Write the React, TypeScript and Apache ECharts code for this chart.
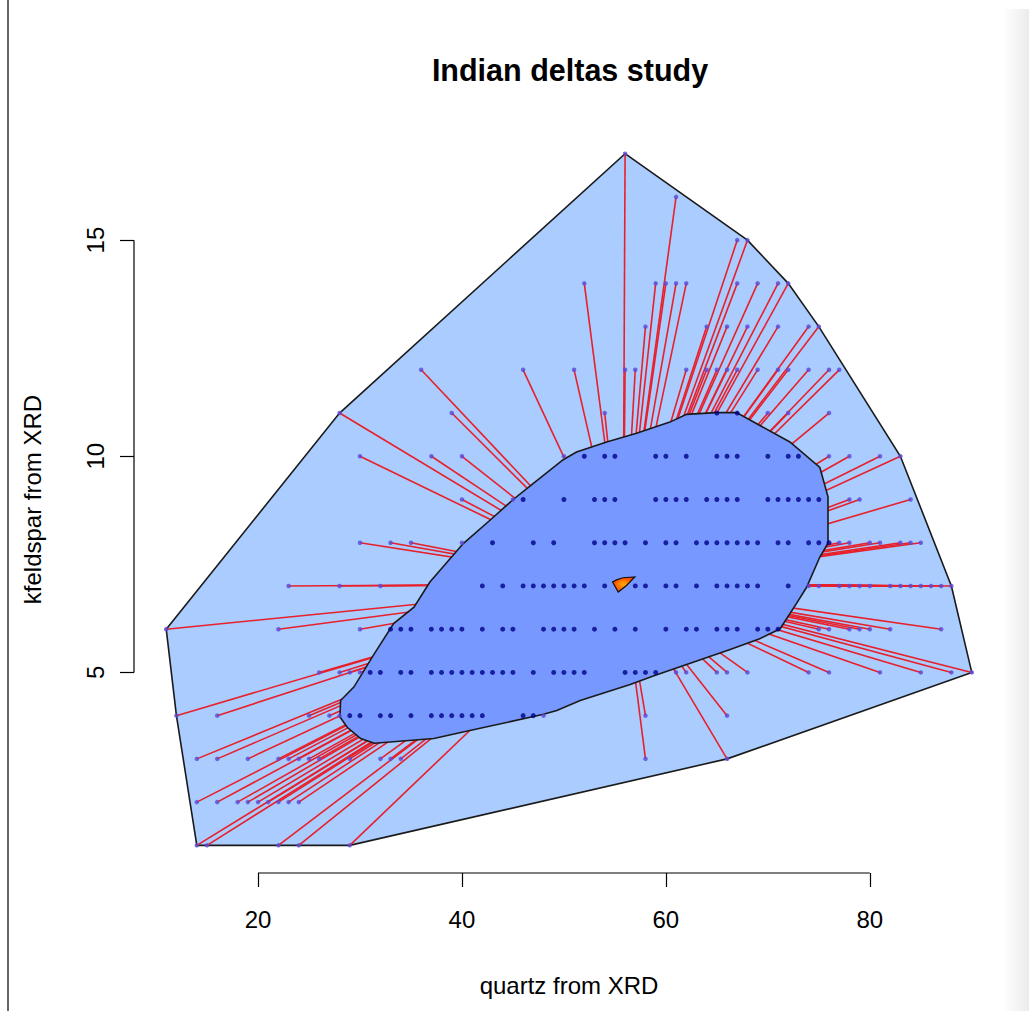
import React, { useEffect, useRef } from "react";
import * as echarts from "echarts";

const xTicks = [20, 40, 60, 80];
const yTicks = [5, 10, 15];
const xRange = [7.84, 93.16];
const yRange = [0.36, 17.64];
const center = [55.8, 7.05];

const hullVertices = [
  [56, 17], [68, 15], [72, 14], [75, 13], [83, 10], [88, 7], [90, 5],
  [66, 3], [29, 1], [14, 1], [12, 4], [11, 6], [28, 11],
];

const bagVertices = [
  [36.86, 7.09], [40.13, 7.98], [42.75, 8.52], [45.03, 9.0], [46.67, 9.31],
  [49.93, 9.92], [51.24, 10.1], [54.19, 10.33], [57.13, 10.53], [60.39, 10.79],
  [62.03, 10.97], [64.9, 11.01], [66.93, 11.01], [72.16, 10.33], [75.1, 9.74],
  [75.9, 9.06], [75.9, 7.99], [75.1, 7.67], [73.8, 6.97], [72.8, 6.59],
  [71.2, 6.01], [69.2, 5.78], [66.3, 5.53], [58.9, 4.93], [56.5, 4.72],
  [51.6, 4.35], [49.3, 4.12], [48.0, 4.03], [40.1, 3.62], [37.25, 3.47],
  [31.4, 3.36], [30.07, 3.47], [28.75, 3.73], [28.04, 3.97], [28.1, 4.35],
  [29.4, 4.66], [31.4, 5.43], [33.3, 6.13], [35.3, 6.51],
];

const centerVertices = [
  [54.77, 7.09], [55.33, 6.86], [56.14, 7.01], [56.96, 7.21], [55.8, 7.19], [55.16, 7.14],
];

const loopPoints = [
  [56, 17],
  [61, 16],
  [67, 15], [68, 15],
  [52, 14], [59, 14], [60, 14], [61, 14], [62, 14], [67, 14], [69, 14], [71, 14], [72, 14],
  [58, 13], [64, 13], [66, 13], [68, 13], [71, 13], [74, 13], [75, 13],
  [36, 12], [46, 12], [51, 12], [56, 12], [57, 12], [62, 12], [64, 12], [65, 12], [66, 12],
  [67, 12], [69, 12], [71, 12], [72, 12], [74, 12], [76, 12], [77, 12],
  [28, 11], [39, 11], [54, 11], [70, 11], [72, 11], [76, 11],
  [30, 10], [37, 10], [40, 10], [50, 10], [76, 10], [78, 10], [81, 10], [83, 10],
  [40, 9], [45, 9], [78, 9], [79, 9], [84, 9],
  [30, 8], [33, 8], [35, 8], [40, 8], [77, 8], [78, 8], [80, 8], [81, 8], [83, 8], [84, 8], [85, 8],
  [23, 7], [28, 7], [32, 7], [74, 7], [75, 7], [77, 7], [78, 7], [79, 7], [80, 7], [82, 7],
  [83, 7], [84, 7], [85, 7], [86, 7], [87, 7], [88, 7],
  [11, 6], [22, 6], [30, 6], [75, 6], [76, 6], [78, 6], [79, 6], [80, 6], [82, 6], [87, 6],
  [26, 5], [28, 5], [29, 5], [30, 5], [61, 5], [62, 5], [65, 5], [66, 5], [68, 5], [74, 5],
  [76, 5], [81, 5], [85, 5], [88, 5], [90, 5],
  [12, 4], [16, 4], [25, 4], [27, 4], [28, 4], [48, 4], [58, 4], [66, 4],
  [14, 3], [16, 3], [19, 3], [22, 3], [23, 3], [24, 3], [25, 3], [26, 3], [29, 3], [32, 3],
  [33, 3], [34, 3], [58, 3], [66, 3],
  [14, 2], [16, 2], [18, 2], [19, 2], [20, 2], [21, 2], [22, 2], [23, 2], [24, 2],
  [14, 1], [15, 1], [22, 1], [24, 1], [29, 1],
];

const bagPoints = [
  [65, 11], [67, 11],
  [52, 10], [54, 10], [55, 10], [59, 10], [60, 10], [62, 10], [65, 10], [66, 10], [67, 10],
  [70, 10], [72, 10], [73, 10],
  [46, 9], [50, 9], [53, 9], [54, 9], [55, 9], [59, 9], [60, 9], [61, 9], [62, 9], [64, 9],
  [65, 9], [66, 9], [67, 9], [70, 9], [71, 9], [72, 9], [73, 9], [74, 9], [75, 9],
  [43, 8], [47, 8], [49, 8], [53, 8], [54, 8], [55, 8], [56, 8], [58, 8], [60, 8], [61, 8],
  [63, 8], [64, 8], [65, 8], [66, 8], [67, 8], [68, 8], [69, 8], [71, 8], [72, 8], [74, 8],
  [75, 8], [76, 8],
  [42, 7], [44, 7], [46, 7], [47, 7], [48, 7], [49, 7], [50, 7], [51, 7], [52, 7], [54, 7],
  [57, 7], [58, 7], [60, 7], [61, 7], [63, 7], [65, 7], [66, 7], [67, 7], [68, 7], [69, 7], [72, 7],
  [33, 6], [34, 6], [35, 6], [37, 6], [38, 6], [39, 6], [40, 6], [42, 6], [44, 6], [45, 6],
  [48, 6], [49, 6], [50, 6], [51, 6], [53, 6], [55, 6], [57, 6], [60, 6], [62, 6], [63, 6],
  [65, 6], [66, 6], [67, 6], [69, 6], [70, 6], [71, 6],
  [31, 5], [32, 5], [34, 5], [35, 5], [37, 5], [38, 5], [39, 5], [40, 5], [41, 5], [42, 5],
  [43, 5], [44, 5], [45, 5], [47, 5], [49, 5], [50, 5], [51, 5], [52, 5], [56, 5], [57, 5],
  [58, 5], [59, 5],
  [29, 4], [30, 4], [32, 4], [33, 4], [35, 4], [37, 4], [38, 4], [39, 4], [40, 4], [41, 4],
  [42, 4], [46, 4], [47, 4],
];

const FONT = "'Liberation Sans', Arial, Helvetica, sans-serif";

function polygonSeries(vertices: number[][], fill: any, stroke: string, lineWidth: number, z: number) {
  return {
    type: "custom",
    coordinateSystem: "cartesian2d",
    data: [vertices[0]],
    z,
    silent: true,
    renderItem: (_params: any, api: any) => ({
      type: "polygon",
      shape: { points: vertices.map((v) => api.coord(v)) },
      style: { fill, stroke, lineWidth },
    }),
  };
}

export default function App() {
  const ref = useRef<HTMLDivElement>(null);
  useEffect(() => {
    document.body.style.margin = "0";
    const chart = echarts.init(ref.current!, null, { renderer: "svg" });
    chart.setOption({
      animation: false,
      backgroundColor: "#ffffff",
      title: {
        text: "Indian deltas study",
        left: 565,
        top: 49,
        textAlign: "center",
        textStyle: { fontSize: 30.5, fontWeight: "bold", color: "#000", fontFamily: FONT },
      },
      grid: { left: 134, right: 25, top: 126, bottom: 138 },
      xAxis: {
        type: "value",
        min: xRange[0],
        max: xRange[1],
        axisLine: { show: false },
        splitLine: { show: false },
        axisTick: { show: true, customValues: xTicks, length: 14, lineStyle: { color: "#000", width: 1.2 } },
        axisLabel: { customValues: xTicks, fontSize: 24, color: "#000", margin: 34, fontFamily: FONT },
        name: "quartz from XRD",
        nameLocation: "middle",
        nameGap: 100,
        nameTextStyle: { fontSize: 24, color: "#000", fontFamily: FONT },
      },
      yAxis: {
        type: "value",
        min: yRange[0],
        max: yRange[1],
        axisLine: { show: false },
        splitLine: { show: false },
        axisTick: { show: true, customValues: yTicks, length: 14, lineStyle: { color: "#000", width: 1.2 } },
        axisLabel: { customValues: yTicks, fontSize: 24, color: "#000", margin: 27, rotate: 90, fontFamily: FONT },
        name: "kfeldspar from XRD",
        nameLocation: "middle",
        nameGap: 90,
        nameTextStyle: { fontSize: 24, color: "#000", fontFamily: FONT },
      },
      graphic: [
        { type: "line", shape: { x1: 8, y1: 0, x2: 8, y2: 1011 }, style: { stroke: "#333", lineWidth: 1.5 } },
        {
          type: "rect",
          shape: { x: 1003, y: 9, width: 26, height: 1002 },
          style: {
            fill: new echarts.graphic.LinearGradient(0, 0, 1, 0, [
              { offset: 0, color: "#ffffff" },
              { offset: 1, color: "#ebebeb" },
            ]),
          },
        },
      ],
      series: [
        {
          type: "line",
          data: [[xTicks[0], yRange[0]], [xTicks[xTicks.length - 1], yRange[0]]],
          symbol: "none",
          clip: false,
          silent: true,
          z: 10,
          lineStyle: { color: "#000", width: 1.2 },
        },
        {
          type: "line",
          data: [[xRange[0], yTicks[0]], [xRange[0], yTicks[yTicks.length - 1]]],
          symbol: "none",
          clip: false,
          silent: true,
          z: 10,
          lineStyle: { color: "#000", width: 1.2 },
        },
        polygonSeries(hullVertices, "#aaccff", "#1a1a1a", 1.6, 1),
        {
          type: "custom",
          coordinateSystem: "cartesian2d",
          data: loopPoints,
          z: 2,
          silent: true,
          renderItem: (_params: any, api: any) => {
            const p = api.coord([api.value(0), api.value(1)]);
            const c = api.coord(center);
            return {
              type: "line",
              shape: { x1: p[0], y1: p[1], x2: c[0], y2: c[1] },
              style: { stroke: "#e8202a", lineWidth: 1.6 },
            };
          },
        },
        polygonSeries(bagVertices, "#7799ff", "#1a1a1a", 1.6, 3),
        {
          type: "scatter",
          data: loopPoints,
          symbol: "circle",
          symbolSize: 4.5,
          z: 4,
          silent: true,
          itemStyle: { color: "#5a48d6" },
        },
        {
          type: "scatter",
          data: bagPoints,
          symbol: "circle",
          symbolSize: 5,
          z: 4,
          silent: true,
          itemStyle: { color: "#000088" },
        },
        polygonSeries(
          centerVertices,
          new echarts.graphic.RadialGradient(0.5, 0.5, 0.6, [
            { offset: 0, color: "#ffb000" },
            { offset: 1, color: "#ff2a00" },
          ]),
          "#111",
          1.2,
          5
        ),
      ],
    });
    return () => chart.dispose();
  }, []);
  return <div ref={ref} style={{ width: 1029, height: 1011 }} />;
}
